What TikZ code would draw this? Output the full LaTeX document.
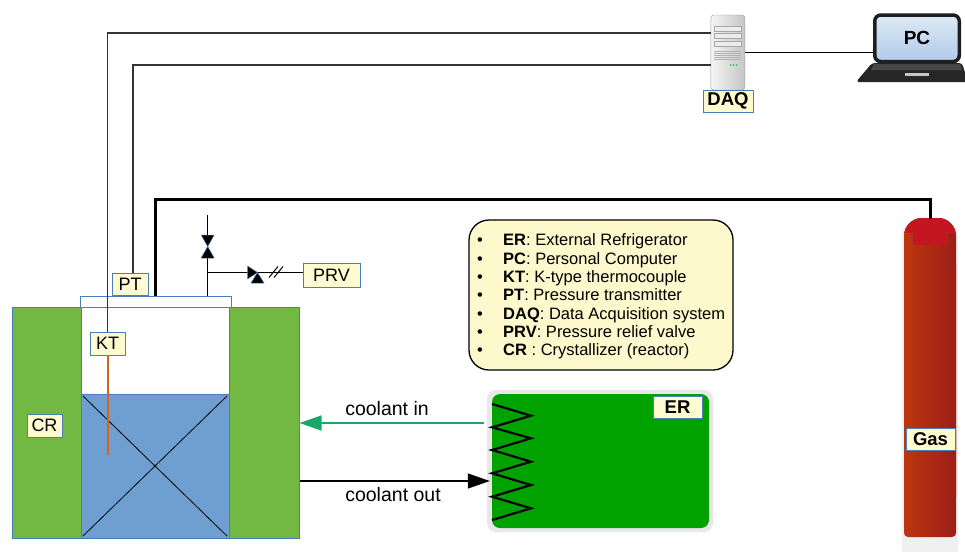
\documentclass[tikz,border=0pt]{standalone}
\usepackage{fontspec}
\setmainfont{Liberation Sans}
\usetikzlibrary{arrows.meta}

\definecolor{crgreen}{RGB}{114,185,68}
\definecolor{liquid}{RGB}{111,159,208}
\definecolor{edgeblue}{RGB}{74,126,187}
\definecolor{tagfill}{RGB}{255,251,208}
\definecolor{legfill}{RGB}{254,249,204}
\definecolor{wiregray}{RGB}{51,51,51}
\definecolor{tcorange}{RGB}{214,100,28}
\definecolor{coolgreen}{RGB}{26,168,104}
\definecolor{ergreen}{RGB}{0,162,0}
\definecolor{gasleft}{RGB}{188,54,14}
\definecolor{gasright}{RGB}{156,30,24}
\definecolor{gascap}{RGB}{196,22,32}
\definecolor{screenhi}{RGB}{222,234,246}
\definecolor{screenlo}{RGB}{176,202,232}

\begin{document}
\begin{tikzpicture}[x=1pt,y=-1pt,
  tag/.style={draw=edgeblue, fill=tagfill, line width=0.9pt, inner sep=0pt,
    font=\fontsize{18}{20}\selectfont},
  btag/.style={tag, font=\fontsize{18.5}{20}\selectfont\bfseries},
  wire/.style={draw=wiregray, line width=1.3pt},
  pipe/.style={draw=black, line width=1.2pt},
  gasline/.style={draw=black, line width=3pt},
  vessel/.style={draw=edgeblue, line width=1pt},
  valvetri/.style={fill=black, draw=edgeblue, line width=0.5pt},
  legtext/.style={inner sep=0pt, font=\fontsize{16.5}{18}\selectfont},
  flowtext/.style={inner sep=0pt, font=\fontsize{19.5}{21}\selectfont},
  coolin/.style={draw=coolgreen, line width=1.5pt, -{Triangle[length=22pt,width=15pt]}},
  coolout/.style={draw=black, line width=1.2pt, -{Triangle[length=22pt,width=15pt]}}
]
\useasboundingbox (0,0) rectangle (965,551);

% ---------------- crystallizer with cooling jacket ----------------
\node[fill=crgreen, vessel, minimum width=287pt, minimum height=231pt, inner sep=0pt]
  (jacket) at (155.5,422.5) {};
\filldraw[fill=white, vessel] (81,307) rectangle (229,538);
\filldraw[fill=liquid, vessel] (81,394) rectangle (229,538);
\draw[line width=0.8pt] (83,396) -- (227,536) (227,396) -- (83,536);
\filldraw[fill=white, vessel] (80,296) rectangle (231,307);

\node[tag, minimum width=35pt, minimum height=23pt] (cr) at (44.5,425.5) {CR};
\node[tag, minimum width=35pt, minimum height=23pt] (kt) at (107.5,343.5) {KT};
\node[tag, minimum width=36pt, minimum height=22pt] (pt) at (130,284) {PT};

% thermocouple probe
\coordinate (tip) at (107.5,455);
\draw[tcorange, line width=2pt] (kt.south) -- (tip);

% ---------------- data acquisition ----------------
\node[draw=gray!75, rounded corners=3pt, minimum width=34pt, minimum height=75pt,
  inner sep=0pt, left color=gray!8, right color=gray!45] (server) at (727.8,52.5) {};
\foreach \yy in {26,33.3,41}
  \filldraw[fill=gray!15, draw=gray!70, line width=0.5pt] (714,\yy) rectangle (741,\yy+5);
\foreach \yy in {51.5,53.5,...,60}
  \draw[gray!60, line width=0.5pt] (714,\yy) -- (741,\yy);
\foreach \xx in {730.5,733.5,736.5}
  \fill[green!60!black!70!white] (\xx,65) circle (1pt);
\node[btag, minimum width=50pt, minimum height=22pt] (daq) at (728,101) {DAQ};

\coordinate (daqa) at (711,33);
\coordinate (daqb) at (711,65);
\draw[wire] (kt.north) |- (daqa);
\draw[wire] ([xshift=3pt]pt.north) |- (daqb);

% ---------------- laptop ----------------
\fill[black!85, rounded corners=3pt] (872,63) -- (962,63) -- (968,82) -- (856,82) -- cycle;
\fill[gray!55!black] (874,64) -- (960,64) -- (962,70) -- (871,70) -- cycle;
\fill[gray!45] (905,73) rectangle (929,75.5);
\node[draw=black!88, line width=3.5pt, rounded corners=6pt, minimum width=84.5pt,
  minimum height=46.5pt, inner sep=0pt, top color=screenhi, bottom color=screenlo,
  font=\fontsize{19}{21}\selectfont\bfseries] (pc) at (917,38.3) {PC};
\draw[line width=1.8pt] (server.east) -- (server.east -| pc.west);

% ---------------- gas cylinder ----------------
\fill[gray!12, rounded corners=6pt] (902,226) rectangle (958,560);
\shade[left color=gasleft, right color=gasright, rounded corners=18pt] (904,218) rectangle (956,515);
\shade[left color=gasleft, right color=gasright, rounded corners=4pt] (904,260) rectangle (956,537);
\begin{scope}
  \clip[rounded corners=18pt] (904,218) rectangle (956,515);
  \fill[gascap] (900,210) rectangle (960,233);
  \fill[gascap, rounded corners=3pt] (913,210) rectangle (948,245);
\end{scope}
\coordinate (gasin) at (930.7,219);
\node[btag, minimum width=49pt, minimum height=22pt] (gas) at (930.5,439) {Gas};

% gas feed line to the reactor lid
\coordinate (lidport) at (155.7,296);
\draw[gasline] (lidport) -- ++(0,-97) -| (gasin);

% ---------------- vent and relief valves ----------------
\coordinate (vtop) at (207.7,215);
\coordinate (vbase) at (207.7,296);
\coordinate (vtee) at (207.7,272.5);
\draw[pipe] (vtop) -- (vbase);
\node[tag, minimum width=57pt, minimum height=24pt] (prv) at (331.5,275) {PRV};
\draw[pipe] (vtee) -- (vtee -| prv.west);
% manual valve (bow tie)
\filldraw[valvetri] (201.2,235) -- (214.2,235) -- (207.7,246.5) -- cycle;
\filldraw[valvetri] (201.2,258) -- (214.2,258) -- (207.7,246.5) -- cycle;
% relief valve
\filldraw[valvetri] (247.5,266) -- (247.5,279) -- (257.5,272.5) -- cycle;
\filldraw[valvetri] (251,283) -- (264,283) -- (257.5,272.5) -- cycle;
% signal line hatch
\draw[line width=1pt] (269,277.5) -- (278,266.5) (274,277.5) -- (283,266.5);

% ---------------- legend ----------------
\node[draw=black, line width=1.3pt, fill=legfill, rounded corners=20pt,
  minimum width=264pt, minimum height=150pt, inner sep=0pt] (legend) at (601,295) {};
\foreach \i/\t in {0/{\textbf{ER}: External Refrigerator},
                   1/{\textbf{PC}: Personal Computer},
                   2/{\textbf{KT}: K-type thermocouple},
                   3/{\textbf{PT}: Pressure transmitter},
                   4/{\textbf{DAQ}: Data Acquisition system},
                   5/{\textbf{PRV}: Pressure relief valve},
                   6/{\textbf{CR} : Crystallizer (reactor)}} {
  \node[legtext, anchor=base] (bul\i) at (480,245.9+18.33*\i) {•};
  \node[legtext, anchor=base west] (leg\i) at (503,245.9+18.33*\i) {\t};
}

% ---------------- external refrigerator ----------------
\fill[gray!18, rounded corners=9pt] (487,390) rectangle (713,532);
\node[fill=ergreen, rounded corners=8pt, minimum width=217pt, minimum height=134pt,
  inner sep=0pt] (er) at (600.5,461) {};
\draw[line width=2.2pt, line join=miter] (492,404) -- (531,415.7) -- (492,427.3)
  -- (531,438.3) -- (492,450) -- (531,461.7) -- (492,473.3) -- (531,485)
  -- (492,496.7) -- (531,508.3) -- (492,520);
\node[btag, minimum width=49pt, minimum height=22pt] (ertag) at (677.5,407) {ER};

% coolant loop
\coordinate (cin) at (484,423);
\coordinate (cout) at (300,481);
\draw[coolin] (cin) -- (jacket.east |- cin);
\draw[coolout] (cout) -- ([xshift=-2pt]er.west |- cout);
\node[flowtext, anchor=base] (lblin) at (387,415.7) {coolant in};
\node[flowtext, anchor=base] (lblout) at (393,501.5) {coolant out};

\end{tikzpicture}
\end{document}
